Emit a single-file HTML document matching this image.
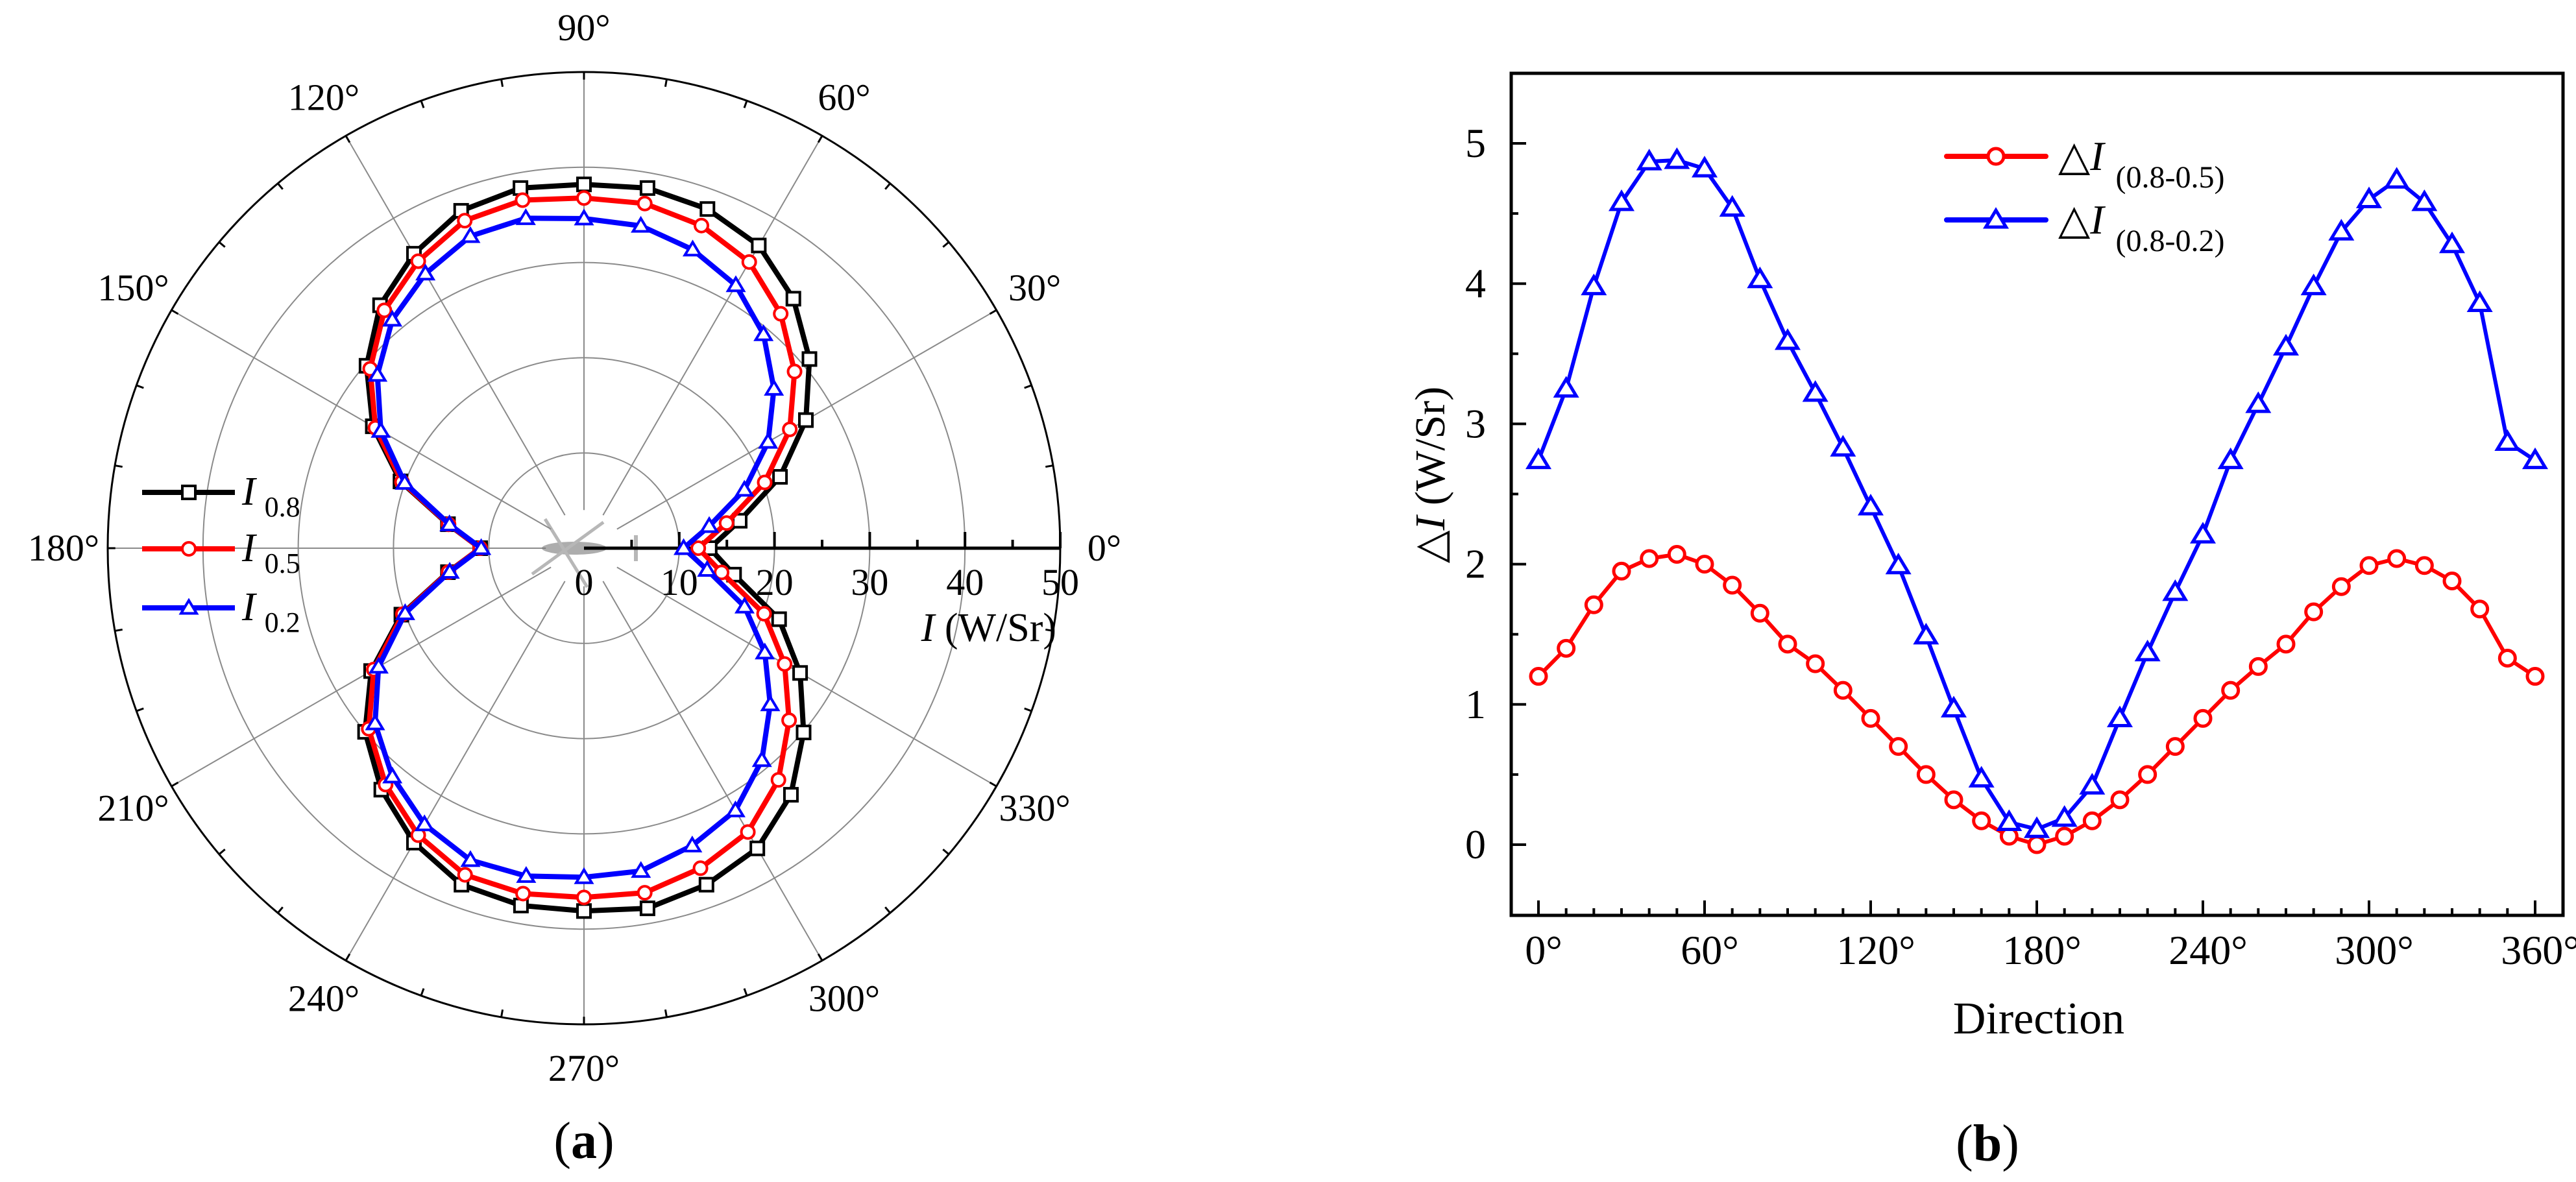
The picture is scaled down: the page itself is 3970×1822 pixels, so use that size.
<!DOCTYPE html>
<html><head><meta charset="utf-8"><style>
html,body{margin:0;padding:0;background:#fff;}
svg{display:block;}
svg text, svg tspan{font-family:"Liberation Serif","Times New Roman","DejaVu Serif",serif;}
</style></head><body>
<svg id="fig" width="3970" height="1822" viewBox="0 0 3970 1822" xmlns="http://www.w3.org/2000/svg" font-family="Liberation Serif, serif">
<g id="polar"></g>
<g id="line"></g>
</svg>
<script>
// ---- data ----
const angles = [0,10,20,30,40,50,60,70,80,90,100,110,120,130,140,150,160,170,180,190,200,210,220,230,240,250,260,270,280,290,300,310,320,330,340,350,360];
const i08 = [13.2,16.6,21.9,26.9,30.9,34.2,36.7,37.9,38.4,38.2,38.4,37.7,35.7,33.3,29.8,25.6,20.5,14.5,10.9,14.5,20.4,25.8,30.0,33.1,35.7,37.6,38.1,38.1,38.4,37.6,36.4,33.8,30.1,26.2,21.8,16.0,13.2];
const dI85 = [1.2,1.4,1.71,1.95,2.04,2.07,2.0,1.85,1.65,1.43,1.29,1.1,0.9,0.7,0.5,0.32,0.17,0.06,0.0,0.06,0.17,0.32,0.5,0.7,0.9,1.1,1.27,1.43,1.66,1.84,1.99,2.04,1.99,1.88,1.68,1.33,1.2];
const dI82 = [2.74,3.25,3.98,4.58,4.87,4.88,4.82,4.54,4.03,3.59,3.22,2.83,2.41,1.99,1.49,0.97,0.47,0.16,0.11,0.19,0.42,0.9,1.37,1.8,2.21,2.74,3.14,3.55,3.98,4.37,4.6,4.74,4.58,4.28,3.86,2.87,2.74];
const radialTicks = [0,10,20,30,40,50];
const angleTicks = [0,30,60,90,120,150,180,210,240,270,300,330];
const xTicks = [0,60,120,180,240,300,360];
const yTicks = [0,1,2,3,4,5];

const NS="http://www.w3.org/2000/svg";
const FF='Liberation Serif, Times New Roman, DejaVu Serif, serif';
function mk(parent,tag,attrs,text){const e=document.createElementNS(NS,tag);for(const k in attrs)e.setAttribute(k,attrs[k]);if(tag==='text')e.setAttribute('font-family',FF);if(text!==undefined)e.textContent=text;parent.appendChild(e);return e;}

// ---- polar ----
const P=document.getElementById('polar');
const cx=900, cy=845, R=734, rmax=50;
const pr=v=>v/rmax*R;
const px=(a,v)=>cx+pr(v)*Math.cos(a*Math.PI/180);
const py=(a,v)=>cy-pr(v)*Math.sin(a*Math.PI/180);
for(const t of [10,20,30,40]){
  const c=mk(P,'circle',{cx:cx,cy:cy,r:pr(t),fill:'none',stroke:'#8a8a8a','stroke-width':2});
  
  
}
for(const a of angleTicks){
  const l=mk(P,'line',{x1:px(a,4),y1:py(a,4),x2:px(a,50),y2:py(a,50),stroke:'#8a8a8a','stroke-width':2});
  
  
}
const oc=mk(P,'circle',{cx:cx,cy:cy,r:R,fill:'none',stroke:'#000','stroke-width':3});


for(let a=0;a<360;a+=10){
  const t=mk(P,'line',{x1:px(a,50),y1:py(a,50),x2:px(a,49.2),y2:py(a,49.2),stroke:'#000','stroke-width':3});
  
  
}
for(const a of angleTicks){
  const rr=R+68;
  const t=mk(P,'text',{x:cx+rr*Math.cos(a*Math.PI/180),y:cy-rr*Math.sin(a*Math.PI/180)+19,'font-size':58,'text-anchor':'middle'},a+'°');
  
  
}
const heli=mk(P,'g',{opacity:0.6});


mk(heli,'ellipse',{cx:cx-15,cy:cy,rx:50,ry:10,fill:'#777'});
mk(heli,'line',{x1:cx-80,y1:cy+40,x2:cx+30,y2:cy-40,stroke:'#888','stroke-width':5});
mk(heli,'line',{x1:cx-60,y1:cy-45,x2:cx+5,y2:cy+60,stroke:'#888','stroke-width':5});
mk(heli,'line',{x1:cx+80,y1:cy-20,x2:cx+80,y2:cy+20,stroke:'#888','stroke-width':6});
const ra=mk(P,'line',{x1:cx,y1:cy,x2:px(0,50),y2:cy,stroke:'#000','stroke-width':5});


for(let v=5;v<=50;v+=5){
  const len=(v%10===0)?25:13;
  const t=mk(P,'line',{x1:px(0,v),y1:cy,x2:px(0,v),y2:cy-len,stroke:'#000','stroke-width':4});
  
  
}
for(const v of radialTicks){
  const t=mk(P,'text',{x:px(0,v),y:cy+72,'font-size':58,'text-anchor':'middle'},v);
  
  
}
const rt=mk(P,'text',{x:1628,y:988,'font-size':62,'text-anchor':'end'});


mk(rt,'tspan',{'font-style':'italic'},'I');
mk(rt,'tspan',{},' (W/Sr)');

function marker(g,type,x,y,col,s,sw){
  sw=sw||4;
  if(type==='sq') return mk(g,'rect',{x:x-s,y:y-s,width:2*s,height:2*s,fill:'#fff',stroke:col,'stroke-width':sw});
  if(type==='ci') return mk(g,'circle',{cx:x,cy:y,r:s,fill:'#fff',stroke:col,'stroke-width':sw});
  return mk(g,'polygon',{points:`${x},${y-s*1.15} ${x-s*1.2},${y+s*0.85} ${x+s*1.2},${y+s*0.85}`,fill:'#fff',stroke:col,'stroke-width':sw});
}
const i05=i08.map((v,i)=>v-dI85[i]);
const i02=i08.map((v,i)=>v-dI82[i]);
const polSeries=[[i08,'#000','sq','i-0.8'],[i05,'#f00','ci','i-0.5'],[i02,'#00f','tr','i-0.2']];
for(const [vals,col,mt,nm] of polSeries){
  const g=mk(P,'g',{});
  
  
  const pts=vals.map((v,i)=>px(angles[i],v).toFixed(1)+','+py(angles[i],v).toFixed(1)).join(' ');
  const pl=mk(g,'polyline',{points:pts,fill:'none',stroke:col,'stroke-width':8,'stroke-linejoin':'round'});
  
  
  vals.forEach((v,i)=>{ if(i<vals.length-1){
    const m=marker(g,mt,px(angles[i],v),py(angles[i],v),col,mt==='tr'?10:10,4);
    
    
  }});
}
const legItems=[['#000','sq','0.8',759],['#f00','ci','0.5',846],['#00f','tr','0.2',937]];
for(const [col,mt,lab,y] of legItems){
  const g=mk(P,'g',{});
  
  
  mk(g,'line',{x1:219,y1:y,x2:362,y2:y,stroke:col,'stroke-width':8});
  marker(g,mt,291,y,col,10,4);
  const t=mk(g,'text',{x:373,y:y+19,'font-size':62});
  mk(t,'tspan',{'font-style':'italic'},'I');
  mk(t,'tspan',{'font-size':44,dx:14,dy:18},lab);
}
const la=mk(P,'text',{x:900,y:1785,'font-size':80,'text-anchor':'middle'});


mk(la,'tspan',{},'(');mk(la,'tspan',{'font-weight':'bold'},'a');mk(la,'tspan',{},')');

// ---- line chart ----
const L=document.getElementById('line');
const fx0=2329, fx1=3950, fy0=113, fy1=1411;
const xs=a=>2371+(a/360)*(3907-2371);
const ys=v=>1302-v*216.2;
const fr=mk(L,'rect',{x:fx0,y:fy0,width:fx1-fx0,height:fy1-fy0,fill:'none',stroke:'#000','stroke-width':5});


for(let a=0;a<=360;a+=10){
  const len=(a%60===0)?23:11;
  const t=mk(L,'line',{x1:xs(a),y1:fy1,x2:xs(a),y2:fy1-len,stroke:'#000','stroke-width':4});
  
  
}
for(const a of xTicks){
  const t=mk(L,'text',{x:xs(a)+8,y:1486,'font-size':64,'text-anchor':'middle'},a+'°');
  
  
}
for(let v=0;v<=5.01;v+=0.5){
  const len=(Math.abs(v-Math.round(v))<0.01)?23:11;
  const t=mk(L,'line',{x1:fx0,y1:ys(v),x2:fx0+len,y2:ys(v),stroke:'#000','stroke-width':4});
  
  
}
for(const v of yTicks){
  const t=mk(L,'text',{x:2290,y:ys(v)+21,'font-size':64,'text-anchor':'end'},v);
  
  
}
const yt=mk(L,'text',{x:0,y:0,'font-size':66,'text-anchor':'middle',transform:'translate(2226,732) rotate(-90)'});


mk(yt,'tspan',{},'△');mk(yt,'tspan',{'font-style':'italic'},'I');mk(yt,'tspan',{},'  (W/Sr)');
const xt=mk(L,'text',{x:3142,y:1593,'font-size':70,'text-anchor':'middle'},'Direction');


const lineSeries=[[dI85,'#f00','ci','delta-i-0.8-0.5'],[dI82,'#00f','tr','delta-i-0.8-0.2']];
for(const [vals,col,mt,nm] of lineSeries){
  const g=mk(L,'g',{});
  
  
  const pts=vals.map((v,i)=>xs(angles[i]).toFixed(1)+','+ys(v).toFixed(1)).join(' ');
  const pl=mk(g,'polyline',{points:pts,fill:'none',stroke:col,'stroke-width':6,'stroke-linejoin':'round'});
  
  
  vals.forEach((v,i)=>{
    const m=marker(g,mt,xs(angles[i]),ys(v),col,mt==='tr'?13:12,5);
    
    
  });
}
const leg2=[['#f00','ci','(0.8-0.5)',241],['#00f','tr','(0.8-0.2)',339]];
for(const [col,mt,lab,y] of leg2){
  const g=mk(L,'g',{});
  
  
  mk(g,'line',{x1:3000,y1:y,x2:3153,y2:y,stroke:col,'stroke-width':8,'stroke-linecap':'round'});
  marker(g,mt,3076,y,col,mt==='tr'?13:12,5);
  const t=mk(g,'text',{x:3172,y:y+21,'font-size':64});
  mk(t,'tspan',{},'△');mk(t,'tspan',{'font-style':'italic'},'I');
  mk(t,'tspan',{'font-size':48,dx:18,dy:27},lab);
}
const lb=mk(L,'text',{x:3063,y:1789,'font-size':80,'text-anchor':'middle'});


mk(lb,'tspan',{},'(');mk(lb,'tspan',{'font-weight':'bold'},'b');mk(lb,'tspan',{},')');
</script>
</body></html>
